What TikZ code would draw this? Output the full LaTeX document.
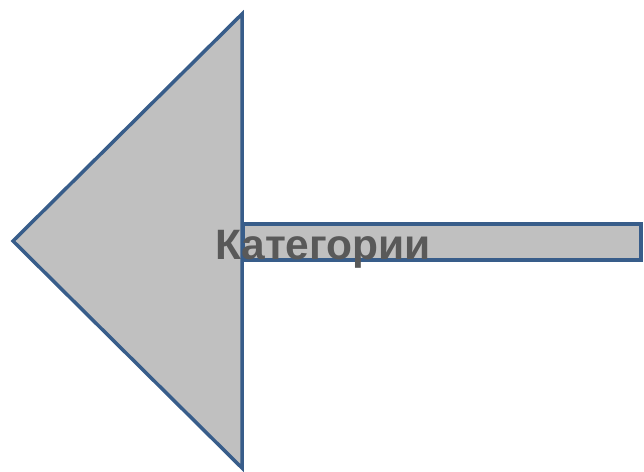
\documentclass[tikz,border=0pt]{standalone}
\usepackage{fontspec}
\setmainfont{Liberation Sans}
\usepackage{tikz}
\usetikzlibrary{positioning}
\definecolor{arrowfill}{HTML}{C0C0C0}
\definecolor{arrowline}{HTML}{385D8A}
\definecolor{labelgray}{HTML}{595959}
\tikzstyle{part} = [draw=arrowline, fill=arrowfill, line width=3.5pt, line join=miter]
\tikzstyle{label} = [text=labelgray, font=\bfseries\fontsize{42.5}{50}\selectfont, inner sep=0pt]

\begin{document}
\begin{tikzpicture}[x=1pt, y=-1pt]
    \useasboundingbox (0,0) rectangle (644,471);
    % head and shaft
    \draw[part] (242,14) -- (13,241) -- (242,468) -- cycle;
    \draw[part] (243,224) rectangle (641,260);
    \node[label, anchor=base] (cat) at (323,259) {Категории};
  \end{tikzpicture}
\end{document}
